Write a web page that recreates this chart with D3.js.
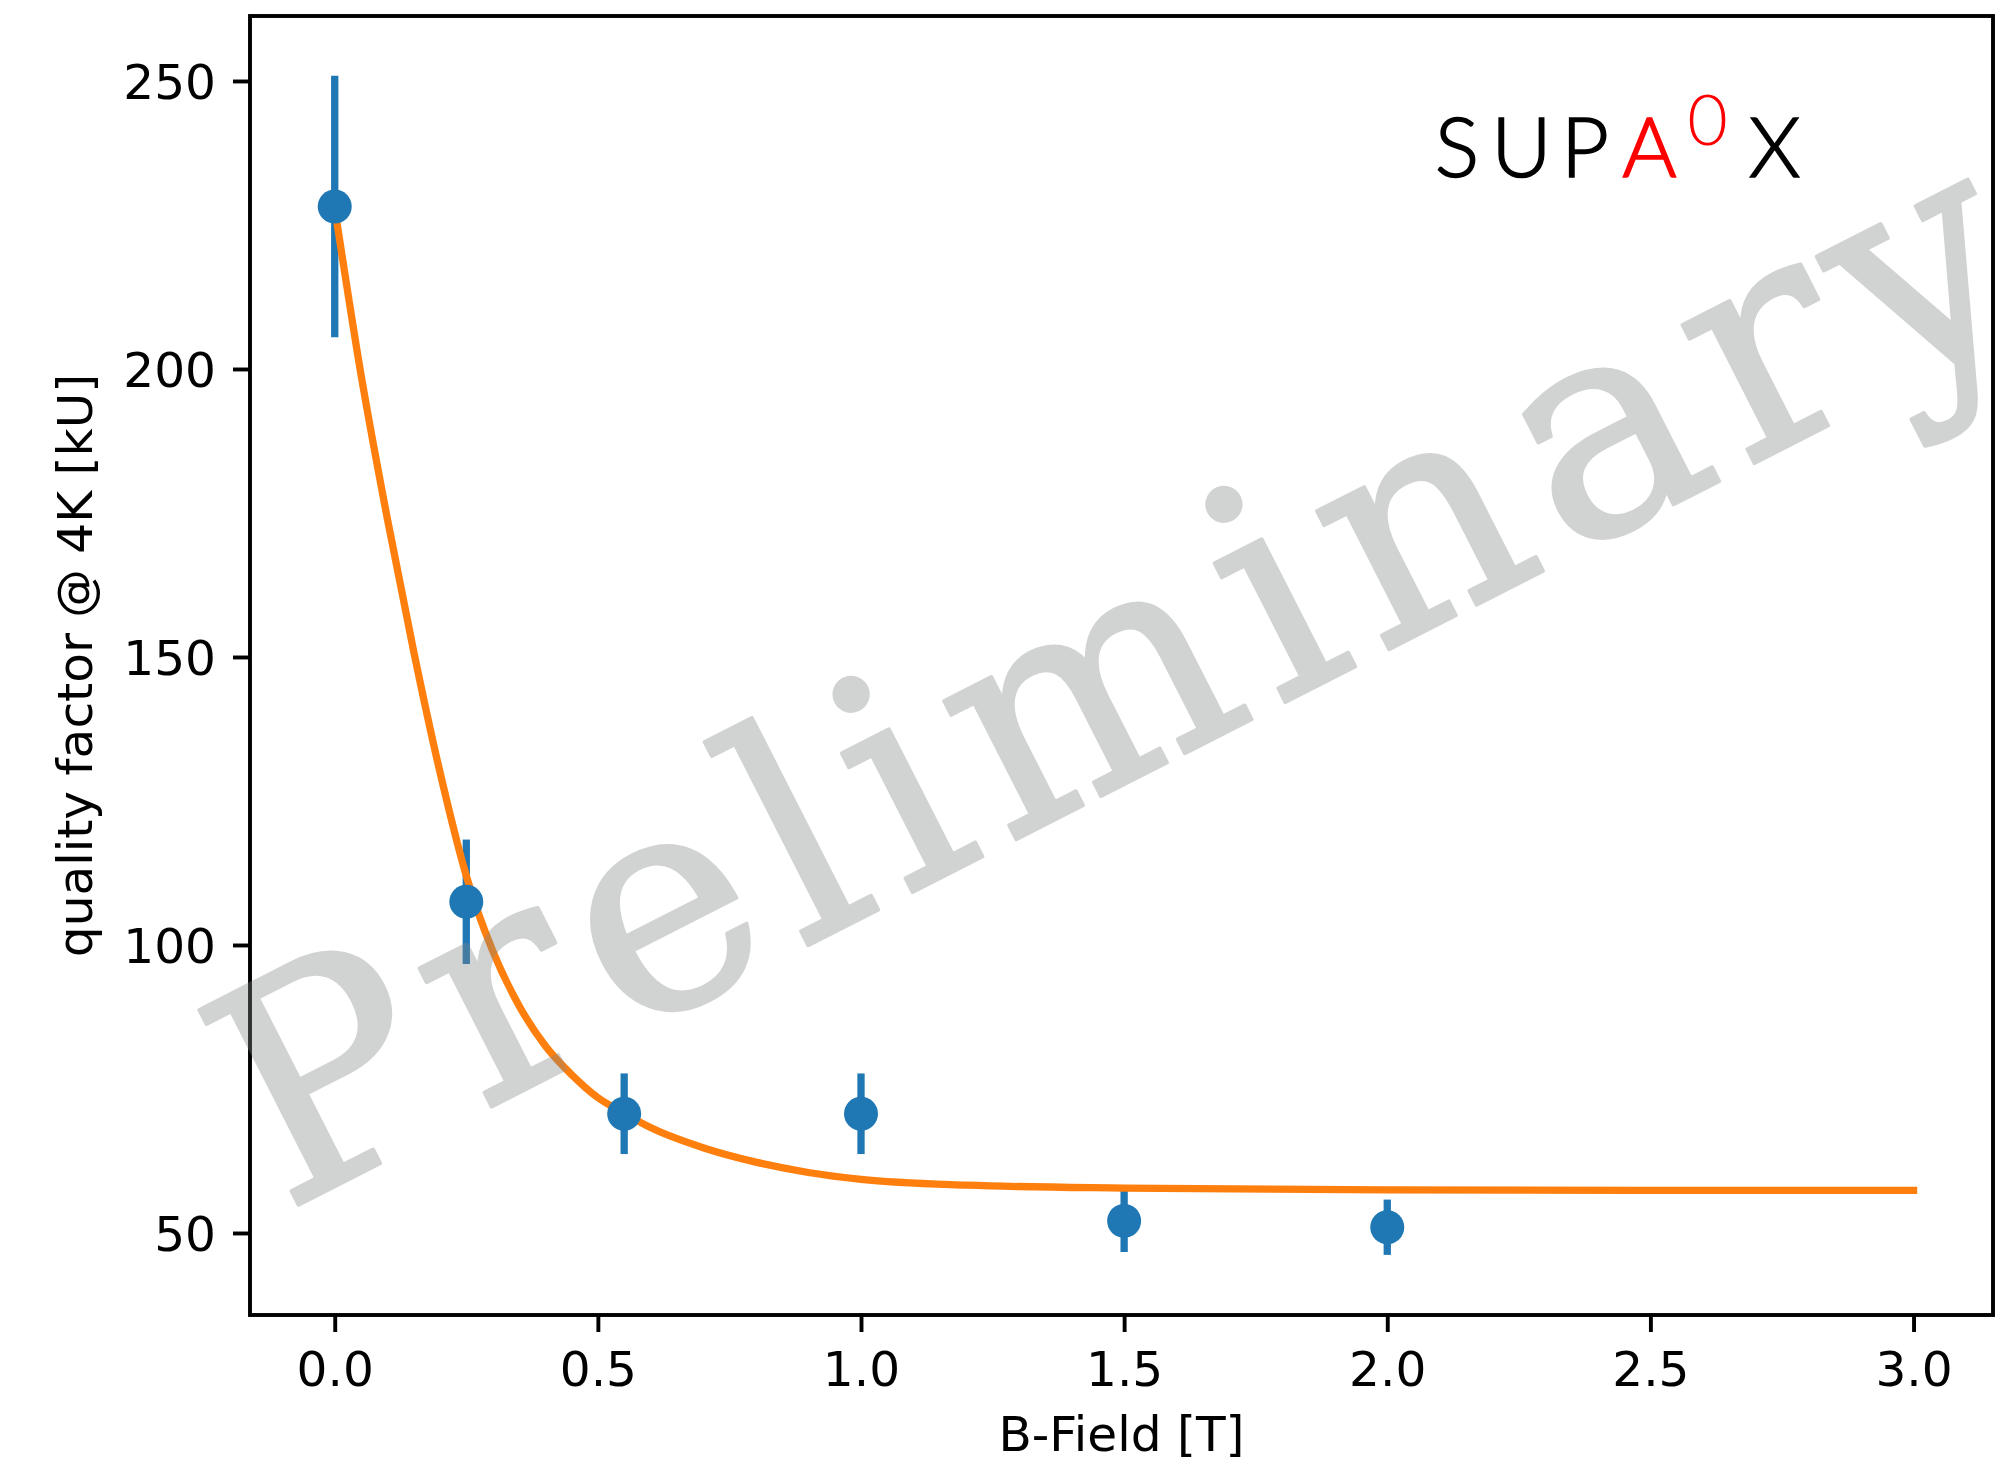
<!DOCTYPE html>
<html>
<head>
<meta charset="utf-8">
<script src="https://cdn.jsdelivr.net/npm/d3@7"></script>
<style>
  body { margin: 0; background: #ffffff; }
  svg { display: block; }
</style>
</head>
<body>
<svg id="chart" width="2009" height="1461"></svg>
<script>
// measured data: B-field [T] vs quality factor [kU]
const fieldT = [0.0, 0.25, 0.55, 1.0, 1.5, 2.0];
const qualityKU = [228.2, 107.5, 70.7, 70.7, 52.1, 51.0];
const qualityErr = [22.7, 10.8, 7.0, 7.0, 5.4, 4.8];

// fit curve
const fitField = [0.0, 0.05, 0.1, 0.15, 0.2, 0.25, 0.3, 0.35, 0.4, 0.45, 0.5, 0.55, 0.6, 0.7, 0.8, 0.9, 1.0, 1.2, 1.5, 2.0, 2.5, 3.0];
const fitQuality = [228, 199, 174, 151, 130, 112, 99, 89.5, 82.5, 77.5, 73.5, 70.8, 68.3, 64.8, 62.3, 60.5, 59.3, 58.3, 57.8, 57.5, 57.4, 57.4];

const xTicks = [0.0, 0.5, 1.0, 1.5, 2.0, 2.5, 3.0];
const yTicks = [50, 100, 150, 200, 250];

const svg = d3.select("#chart");
const plotLeft = 250, plotRight = 1993, plotTop = 16, plotBottom = 1315;
const lw = 7.3;   // 1.5pt at this resolution
const fontPx = 48.6;

const xScale = d3.scaleLinear().domain([-0.161, 3.151]).range([plotLeft, plotRight]);
const yScale = d3.scaleLinear().domain([35.76, 261.28]).range([plotBottom, plotTop]);

svg.append("rect").attr("width", 2009).attr("height", 1461).attr("fill", "white");

const points = fieldT.map((x, i) => ({ x: x, y: qualityKU[i], e: qualityErr[i] }));
const fit = fitField.map((x, i) => ({ x: x, y: fitQuality[i] }));

// error bars
svg.append("g").selectAll("line")
  .data(points)
  .join("line")
  .attr("x1", d => xScale(d.x))
  .attr("x2", d => xScale(d.x))
  .attr("y1", d => yScale(d.y - d.e))
  .attr("y2", d => yScale(d.y + d.e))
  .attr("stroke", "#1f77b4")
  .attr("stroke-width", lw);

// fit line
const line = d3.line()
  .x(d => xScale(d.x))
  .y(d => yScale(d.y))
  .curve(d3.curveMonotoneX);

svg.append("path")
  .datum(fit)
  .attr("d", line)
  .attr("fill", "none")
  .attr("stroke", "#ff7f0e")
  .attr("stroke-width", lw)
  .attr("stroke-linecap", "square");

// markers
svg.append("g").selectAll("circle")
  .data(points)
  .join("circle")
  .attr("cx", d => xScale(d.x))
  .attr("cy", d => yScale(d.y))
  .attr("r", 17)
  .attr("fill", "#1f77b4");

// axes
const xAxis = svg.append("g")
  .attr("transform", `translate(0,${plotBottom})`)
  .call(d3.axisBottom(xScale).tickValues(xTicks).tickFormat(d3.format(".1f")).tickSize(17).tickPadding(17));

const yAxis = svg.append("g")
  .attr("transform", `translate(${plotLeft},0)`)
  .call(d3.axisLeft(yScale).tickValues(yTicks).tickFormat(d3.format("d")).tickSize(17).tickPadding(17));

[xAxis, yAxis].forEach(g => {
  g.select(".domain").remove();
  g.selectAll(".tick line").attr("stroke", "black").attr("stroke-width", 3.9);
  g.selectAll(".tick text")
    .attr("fill", "black")
    .style("font-family", "'DejaVu Sans', sans-serif")
    .style("font-size", fontPx + "px");
});
xAxis.selectAll(".tick text").attr("dy", "0.76em");
yAxis.selectAll(".tick text").attr("dy", "0.36em");

// frame
svg.append("rect")
  .attr("x", plotLeft).attr("y", plotTop)
  .attr("width", plotRight - plotLeft).attr("height", plotBottom - plotTop)
  .attr("fill", "none")
  .attr("stroke", "black")
  .attr("stroke-width", 3.9);

// axis labels
svg.append("text")
  .attr("x", (plotLeft + plotRight) / 2)
  .attr("y", 1451)
  .attr("text-anchor", "middle")
  .style("font-family", "'DejaVu Sans', sans-serif")
  .style("font-size", fontPx + "px")
  .text("B-Field [T]");

svg.append("text")
  .attr("transform", `translate(92,${(plotTop + plotBottom) / 2}) rotate(-90)`)
  .attr("text-anchor", "middle")
  .style("font-family", "'DejaVu Sans', sans-serif")
  .style("font-size", fontPx + "px")
  .text("quality factor @ 4K [kU]");

// logo
const logo = svg.append("g")
  .style("font-family", "Lato, 'DejaVu Sans', sans-serif")
  .style("font-weight", 300)
  .attr("text-anchor", "middle");

const logoLetters = [
  { t: "S", x: 1457, c: "black" },
  { t: "U", x: 1521.5, c: "black" },
  { t: "P", x: 1585, c: "black" },
  { t: "A", x: 1649.5, c: "red" },
  { t: "X", x: 1774.5, c: "black" }
];
logo.selectAll("text.letter")
  .data(logoLetters)
  .join("text")
  .attr("class", "letter")
  .attr("x", d => d.x)
  .attr("y", 177)
  .attr("fill", d => d.c)
  .attr("stroke", d => d.c)
  .attr("stroke-width", 1.6)
  .style("font-size", "83px")
  .text(d => d.t);

logo.append("text")
  .attr("x", 1707.5)
  .attr("y", 145)
  .attr("fill", "red")
  .style("font-size", "70px")
  .text("0");

// watermark
svg.append("text")
  .attr("transform", "translate(1136,694) rotate(-27)")
  .attr("text-anchor", "middle")
  .attr("dy", "0.25em")
  .attr("fill", "rgb(128,135,133)")
  .attr("stroke", "rgb(128,135,133)")
  .attr("stroke-width", 4)
  .attr("stroke-linejoin", "round")
  .attr("opacity", 0.36)
  .style("font-family", "'DejaVu Serif', serif")
  .style("font-size", "300px")
  .style("letter-spacing", "19px")
  .text("Preliminary");
</script>
</body>
</html>
